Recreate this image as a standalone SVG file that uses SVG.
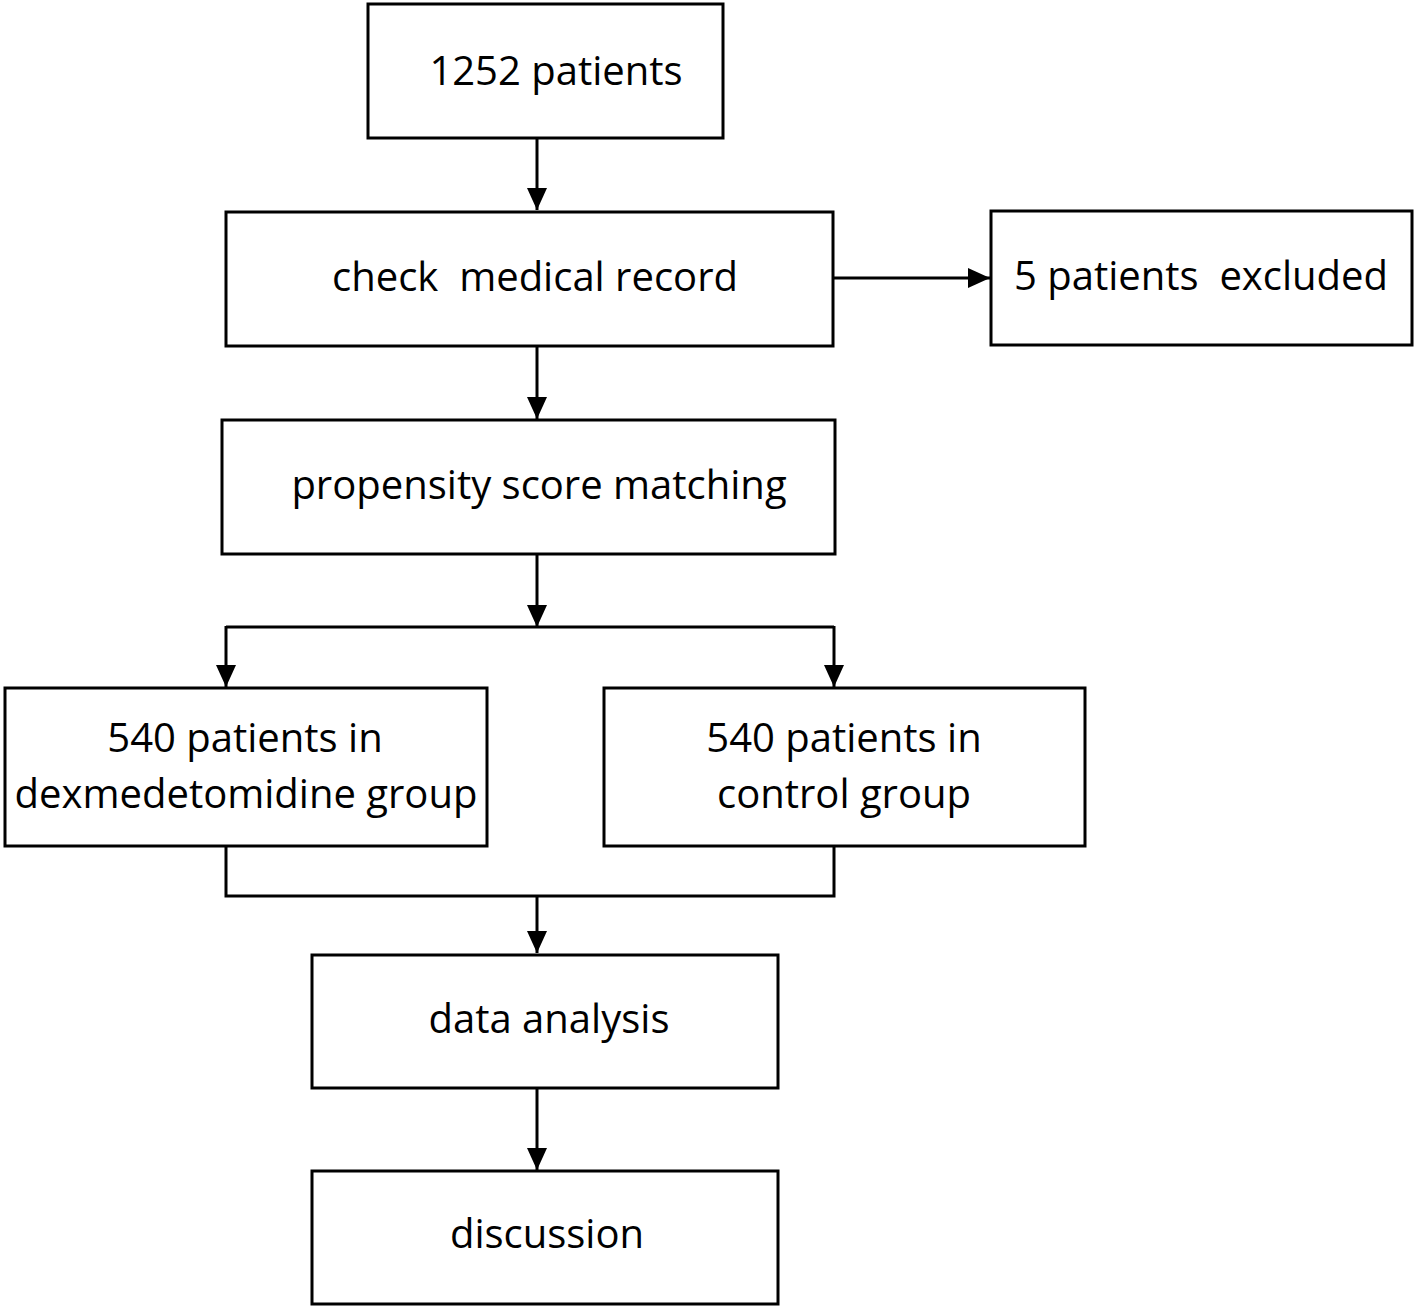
<svg xmlns="http://www.w3.org/2000/svg" width="1416" height="1309" viewBox="0 0 1416 1309">
<defs>
<style>
.box{fill:#fff;stroke:#000;stroke-width:3}
.lbl{font-family:"Open Sans","Noto Sans",sans-serif;font-size:40px;fill:#000;text-anchor:middle;white-space:pre}
.ln{fill:none;stroke:#000;stroke-width:3}
</style>
<marker id="arr" markerUnits="userSpaceOnUse" markerWidth="22" markerHeight="22" viewBox="0 0 22 22" refX="22" refY="11" orient="auto">
<path d="M0,1 L22,11 L0,21 Z" fill="#000"/>
</marker>
</defs>
<rect width="1416" height="1309" fill="#fff"/>
<g id="connectors">
<line class="ln" x1="537" y1="138" x2="537" y2="210" marker-end="url(#arr)"/>
<line class="ln" x1="833" y1="278" x2="990" y2="278" marker-end="url(#arr)"/>
<line class="ln" x1="537" y1="346" x2="537" y2="419" marker-end="url(#arr)"/>
<line class="ln" x1="537" y1="554" x2="537" y2="627" marker-end="url(#arr)"/>
<polyline class="ln" points="226,627 834,627"/>
<line class="ln" x1="226" y1="626" x2="226" y2="687" marker-end="url(#arr)"/>
<line class="ln" x1="834" y1="626" x2="834" y2="687" marker-end="url(#arr)"/>
<polyline class="ln" points="226,846 226,896 834,896 834,846"/>
<line class="ln" x1="537" y1="896" x2="537" y2="953" marker-end="url(#arr)"/>
<line class="ln" x1="537" y1="1088" x2="537" y2="1170" marker-end="url(#arr)"/>
</g>
<g id="n1252">
<rect class="box" x="368" y="4" width="355" height="134"/>
<text class="lbl" x="556" y="85">1252 patients</text>
</g>
<g id="ncheck">
<rect class="box" x="226" y="212" width="607" height="134"/>
<text class="lbl" x="535" y="291">check  medical record</text>
</g>
<g id="nexcluded">
<rect class="box" x="991" y="211" width="421" height="134"/>
<text class="lbl" x="1201" y="290">5 patients  excluded</text>
</g>
<g id="npsm">
<rect class="box" x="222" y="420" width="613" height="134"/>
<text class="lbl" x="539" y="499">propensity score matching</text>
</g>
<g id="ndex">
<rect class="box" x="5" y="688" width="482" height="158"/>
<text class="lbl" x="245" y="752">540 patients in</text>
<text class="lbl" x="246" y="808">dexmedetomidine group</text>
</g>
<g id="nctrl">
<rect class="box" x="604" y="688" width="481" height="158"/>
<text class="lbl" x="844" y="752">540 patients in</text>
<text class="lbl" x="844" y="808">control group</text>
</g>
<g id="ndata">
<rect class="box" x="312" y="955" width="466" height="133"/>
<text class="lbl" x="549" y="1033">data analysis</text>
</g>
<g id="ndisc">
<rect class="box" x="312" y="1171" width="466" height="133"/>
<text class="lbl" x="547" y="1248">discussion</text>
</g>
</svg>
